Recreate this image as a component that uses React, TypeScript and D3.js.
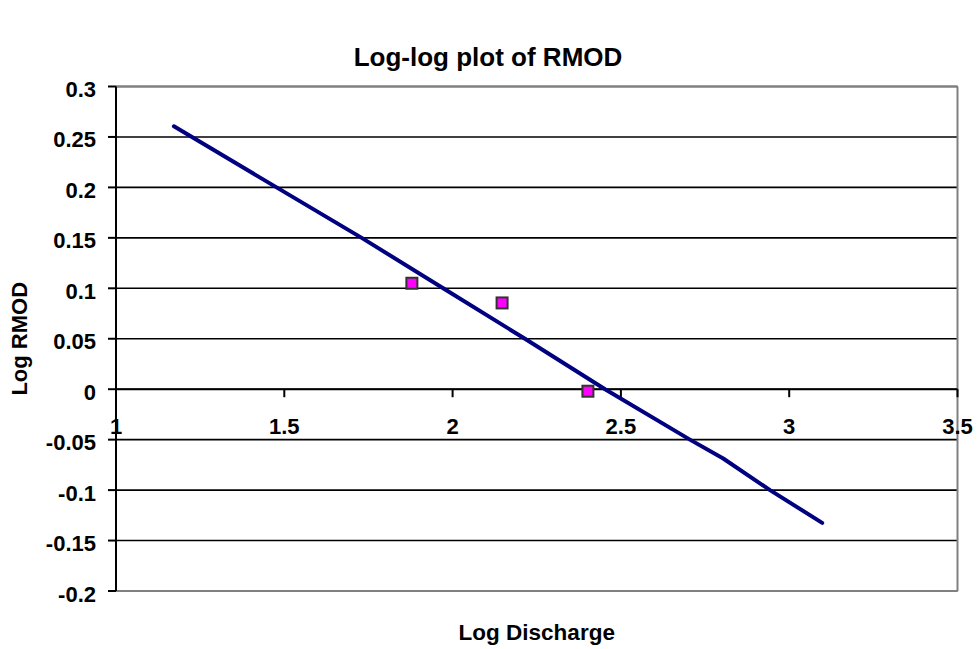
import React from "react";
import * as d3 from "d3";

const W = 978;
const H = 649;

const lineX = [1.172, 1.477, 1.73, 1.972, 2.215, 2.453, 2.705, 2.804, 2.943, 3.098];
const lineY = [0.2606, 0.2, 0.15, 0.1, 0.05, 0.0, -0.05, -0.0687, -0.1, -0.1325];
const pointX = [1.879, 2.147, 2.402];
const pointY = [0.105, 0.0855, -0.002];
const xTicks = [1, 1.5, 2, 2.5, 3, 3.5];
const yTicks = [0.3, 0.25, 0.2, 0.15, 0.1, 0.05, 0, -0.05, -0.1, -0.15, -0.2];

const FONT = "'Liberation Sans', Arial, sans-serif";

export default function App() {
  const left = 116, right = 957.5, top = 86.5, bottom = 591;
  const x = d3.scaleLinear().domain([1, 3.5]).range([left, right]);
  const y = d3.scaleLinear().domain([-0.2, 0.3]).range([bottom, top]);
  const lineData = lineX.map((v, i) => [v, lineY[i]] as [number, number]);
  const path = d3.line<[number, number]>().x(d => x(d[0])).y(d => y(d[1]))(lineData) || "";
  const fmt = (v: number) => String(Math.round(v * 100) / 100);

  return (
    <svg width={W} height={H} style={{ position: "absolute", left: 0, top: 0, background: "#fff" }}>
      <rect x={0} y={0} width={W} height={H} fill="#fff" />
      <text x={488} y={66} textAnchor="middle" fontFamily={FONT} fontWeight="bold" fontSize={26}>
        Log-log plot of RMOD
      </text>
      {/* gridlines */}
      {yTicks.map(t => (
        <line key={"g" + t} x1={left} x2={right} y1={y(t)} y2={y(t)} stroke="#000" strokeWidth={1.6} />
      ))}
      {/* plot border (grey) */}
      <line x1={left} x2={right} y1={top} y2={top} stroke="#808080" strokeWidth={2} />
      <line x1={right} x2={right} y1={top} y2={bottom} stroke="#808080" strokeWidth={2} />
      <line x1={left} x2={right} y1={bottom} y2={bottom} stroke="#808080" strokeWidth={2} />
      {/* y axis */}
      <line x1={left} x2={left} y1={top} y2={bottom} stroke="#000" strokeWidth={2} />
      {yTicks.map(t => (
        <g key={"y" + t}>
          <line x1={left - 8} x2={left} y1={y(t)} y2={y(t)} stroke="#000" strokeWidth={2} />
          <text x={96} y={y(t) + 10.5} textAnchor="end" fontFamily={FONT} fontWeight="bold" fontSize={22}>
            {fmt(t)}
          </text>
        </g>
      ))}
      {/* x axis at y=0 */}
      <line x1={left} x2={right} y1={y(0)} y2={y(0)} stroke="#000" strokeWidth={2} />
      {xTicks.map(t => (
        <g key={"x" + t}>
          <line x1={x(t)} x2={x(t)} y1={y(0)} y2={y(0) + 8} stroke="#000" strokeWidth={2} />
          <text x={x(t)} y={434} textAnchor="middle" fontFamily={FONT} fontWeight="bold" fontSize={22}>
            {fmt(t)}
          </text>
        </g>
      ))}
      {/* fitted line */}
      <path d={path} fill="none" stroke="#000080" strokeWidth={4} strokeLinejoin="round" strokeLinecap="round" />
      {/* markers */}
      {pointX.map((v, i) => (
        <rect key={"p" + i} x={x(v) - 5.5} y={y(pointY[i]) - 5.5} width={11} height={11}
          fill="#FF00FF" stroke="#333333" strokeWidth={2} />
      ))}
      <text x={(left + right) / 2} y={640} textAnchor="middle" fontFamily={FONT} fontWeight="bold" fontSize={22.5}>
        Log Discharge
      </text>
      <text transform={`translate(27, ${(top + bottom) / 2}) rotate(-90)`} textAnchor="middle"
        fontFamily={FONT} fontWeight="bold" fontSize={22}>
        Log RMOD
      </text>
    </svg>
  );
}
